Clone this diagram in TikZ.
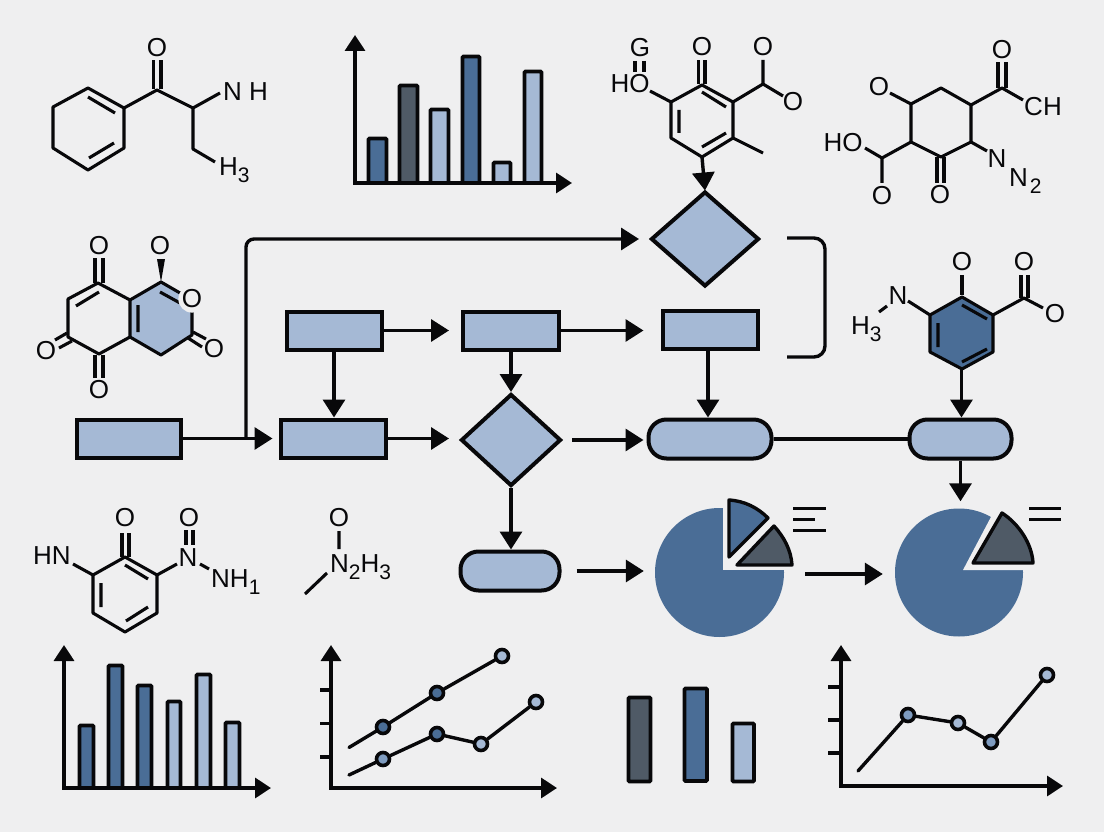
\documentclass[tikz,border=0pt]{standalone}
\usepackage{fontspec}
\setmainfont{Liberation Sans}
\usetikzlibrary{arrows.meta,shapes.geometric}
\definecolor{bgc}{HTML}{EFEFF0}
\definecolor{lightb}{HTML}{A5B9D5}
\definecolor{midb}{HTML}{7F9CC0}
\definecolor{darkb}{HTML}{4A6D96}
\definecolor{slate}{HTML}{4F5A66}
\definecolor{ink}{HTML}{08080A}
\newcommand{\atomsub}[1]{\raisebox{-7pt}{\fontsize{21}{21}\selectfont #1}}
\newcommand{\barbox}[5]{\draw[barbox,fill=#5] (#1+1.5,#2+1.5) rectangle (#3-1.5,#4);}
\tikzset{
  x=1pt,y=-1pt,
  flowrect/.style={draw=ink,fill=lightb,line width=4pt,inner sep=0,rectangle,minimum width=#1,minimum height=38pt},
  flowpill/.style={draw=ink,fill=lightb,line width=4pt,inner sep=0,rectangle,rounded corners=18pt,minimum width=#1,minimum height=39pt},
  flowdia/.style n args={2}{draw=ink,fill=lightb,line width=4pt,inner sep=0,diamond,aspect=1.15,minimum width=#1,minimum height=#2},
  arrowline/.style={draw=ink,line width=3.4pt,-{Triangle[length=18pt,width=22pt]}},
  plainline/.style={draw=ink,line width=3.4pt},
  axisline/.style={draw=ink,line width=3.4pt,{Triangle[length=16pt,width=20pt]}-{Triangle[length=16pt,width=20pt]},line join=miter},
  barbox/.style={draw=ink,line width=3.6pt,rounded corners=1pt},
  bond/.style={draw=ink,line width=3.1pt,line join=round},
  atom/.style={text=ink,inner sep=0,font=\fontsize{26}{26}\selectfont},
  baseatom/.style={atom,anchor=base west},
  tick/.style={draw=ink,line width=3.4pt},
  dotm/.style={circle,draw=ink,line width=3.6pt,inner sep=0,minimum size=13pt,fill=#1},
  trace/.style={draw=ink,line width=3.4pt,line cap=round},
  pie/.style={circle,fill=darkb,inner sep=0,minimum size=#1},
  slice/.style={draw=ink,line width=3.4pt,line join=round,fill=#1},
  legendline/.style={draw=ink,line width=3pt},
}
\begin{document}
\begin{tikzpicture}
\useasboundingbox (0,0) rectangle (1104,832);
\fill[bgc] (0,0) rectangle (1104,832);

% --- molecule 1 (top left)
\draw[bond] (88,88) -- (124,108) -- (124,148) -- (88,170) -- (53,148) -- (53,107) -- cycle;
\draw[bond] (88,97) -- (115,113) (89,158) -- (114,143);
\draw[bond] (124,108) -- (157,90) -- (193,108) -- (220,93) (193,108) -- (193,149) -- (215,162);
\draw[bond] (153.5,89) -- (153.5,60) (161,89) -- (161,60);
\node[atom] (m1o) at (157,48) {O};
\node[baseatom] (m1nh) at (223,101) {N H};
\node[baseatom] (m1h) at (219,176) {H\atomsub{3}};

% --- top bar chart
\barbox{367}{137}{388}{183}{darkb}
\barbox{398}{84}{419}{183}{slate}
\barbox{429}{108}{450}{183}{lightb}
\barbox{461}{55}{481}{183}{darkb}
\barbox{492}{161}{512}{183}{lightb}
\barbox{523}{70}{543}{183}{lightb}
\draw[axisline] (355,35) -- (355,183) -- (572,183);

% --- molecule 3 (top centre)
\draw[bond] (702,85) -- (733,102) -- (733,138) -- (702,157) -- (671,138) -- (671,102) -- cycle;
\draw[bond] (702,92) -- (726,107) (726,133) -- (702,147) (679,110) -- (679,133);
\draw[bond] (698.5,84) -- (698.5,60) (705,84) -- (705,60);
\draw[bond] (635,61) -- (635,72) (644,61) -- (644,72);
\draw[bond] (650,91) -- (671,102);
\draw[bond] (733,102) -- (763,84) -- (763,60) (763,84) -- (783,96);
\draw[bond] (733,138) -- (763,153);
\node[atom] (m3o1) at (702,47) {O};
\node[atom] (m3g) at (640,48) {G};
\node[atom] (m3ho) at (630,84) {HO};
\node[atom] (m3o2) at (763,47) {O};
\node[atom] (m3o3) at (793,102) {O};

% --- molecule 4 (top right)
\draw[bond] (941,88) -- (971,105) -- (971,142) -- (941,157) -- (911,142) -- (911,104) -- cycle;
\draw[bond] (890,93) -- (911,104);
\draw[bond] (971,105) -- (1002,88) -- (1023,100);
\draw[bond] (998,88) -- (998,62) (1006,88) -- (1006,62);
\draw[bond] (971,142) -- (987,151);
\draw[bond] (937,157) -- (937,183) (944,157) -- (944,183);
\draw[bond] (911,142) -- (882,158) -- (865,148) (882,158) -- (882,183);
\node[atom] (m4o1) at (879,87) {O};
\node[atom] (m4o2) at (1002,50) {O};
\node[atom] (m4ch) at (1043,107) {CH};
\node[atom] (m4n) at (997,159) {N};
\node[baseatom] (m4n2) at (1009,186) {N\kern2pt\atomsub{2}};
\node[atom] (m4o3) at (940,195) {O};
\node[atom] (m4ho) at (843,143) {HO};
\node[atom] (m4o4) at (882,196) {O};

% --- molecule 2 (left)
\fill[lightb] (130,300) -- (161,282) -- (190,300) -- (192,335) -- (161,355) -- (130,337) -- cycle;
\draw[bond] (130,300) -- (98,283) -- (68,299) -- (68,337) -- (99,354) -- (130,337) -- cycle;
\draw[bond] (130,300) -- (161,282) -- (180,293) (192,305) -- (192,335) -- (161,355) -- (130,337);
\draw[bond] (76,306) -- (99,292) (138,305) -- (138,332) (160,292) -- (180,303);
\draw[bond] (95,258) -- (95,283) (103,258) -- (103,283);
\draw[bond] (95,355) -- (95,378) (103,355) -- (103,378);
\draw[bond] (55,340) -- (67,333) (59,348) -- (72,341);
\draw[bond] (193,332) -- (206,339) (188,338) -- (202,347);
\fill[ink] (161,282) -- (157,259) -- (165,259) -- cycle;
\node[atom] (m2o1) at (99,246) {O};
\node[atom] (m2o2) at (160,246) {O};
\node[atom,circle,fill=bgc] (m2o3) at (192,299) {O};
\node[atom] (m2o4) at (214,349) {O};
\node[atom] (m2o5) at (46,351) {O};
\node[atom] (m2o6) at (99,390) {O};

% --- molecule 5 (right)
\draw[bond,fill=darkb] (962,297) -- (993,315) -- (993,352) -- (962,369) -- (930,352) -- (930,315) -- cycle;
\draw[bond] (962,305) -- (987,319) (987,349) -- (962,362) (938,323) -- (938,347);
\draw[bond] (962,275) -- (962,295);
\draw[bond] (993,315) -- (1024,298) -- (1043,308);
\draw[bond] (1021,275) -- (1021,298) (1028,275) -- (1028,298);
\draw[bond] (908,301) -- (930,315) (887,306) -- (879,312);
\node[atom] (m5o1) at (962,262) {O};
\node[atom] (m5o2) at (1024,262) {O};
\node[atom] (m5o3) at (1055,314) {O};
\node[atom] (m5n) at (898,296) {N};
\node[baseatom] (m5h) at (851,334) {H\atomsub{3}};

% --- molecule 6
\draw[bond] (125,557) -- (157,575) -- (157,613) -- (125,632) -- (93,613) -- (93,575) -- cycle;
\draw[bond] (125,565) -- (148,579) (148,607) -- (126,621) (101,583) -- (101,607);
\draw[bond] (122,533) -- (122,557) (129,533) -- (129,557);
\draw[bond] (73,564) -- (93,575) (157,575) -- (177,564) (200,564) -- (209,569);
\draw[bond] (186,530) -- (186,545) (193,530) -- (193,545);
\node[atom] (m6o1) at (125,518) {O};
\node[atom] (m6hn) at (52,556) {HN};
\node[atom] (m6n) at (188,558) {N};
\node[atom] (m6o2) at (189,518) {O};
\node[baseatom] (m6nh) at (211,587) {NH\atomsub{1}};

% --- molecule 7
\draw[bond] (339,531) -- (339,549) (327,573) -- (305,594);
\node[atom] (m7o) at (339,518) {O};
\node[baseatom] (m7n) at (330,572) {N\atomsub{2}H\atomsub{3}};

% --- flow nodes
\node[flowrect=104pt] (A) at (128.5,438.5) {};
\node[flowrect=105pt] (B) at (333,438.5) {};
\node[flowrect=95pt] (C) at (334,330.5) {};
\node[flowrect=96pt] (D) at (511,330.5) {};
\node[flowrect=95pt] (E) at (710,330) {};
\node[flowdia={108pt}{95pt}] (dT) at (705,239) {};
\node[flowdia={100pt}{92pt}] (dM) at (511,440) {};
\node[flowpill=123pt] (pL) at (710,439) {};
\node[flowpill=102pt] (pR) at (960.5,439) {};
\node[flowpill=99pt] (pB) at (510,571) {};

% --- pies
\node[pie=129pt] (pieA) at (719.5,572.5) {};
\fill[bgc] (722.5,500) rectangle (790,570);
\draw[slice=darkb] (729,557) -- (729,500) .. controls (745,501) and (758,508) .. (768,518) -- cycle;
\draw[slice=slate] (737,565) -- (774,526) .. controls (784,537) and (791,550) .. (792,565) -- cycle;
\draw[legendline] (793,508) -- (826,508) (793,519) -- (815,519) (793,530) -- (826,530);

\node[pie=128pt] (pieB) at (959,572.5) {};
\fill[bgc] (963,570) -- (992,515) -- (1000,500) -- (1030,500) -- (1030,570) -- cycle;
\draw[slice=slate] (973,563) -- (1002,513) .. controls (1019,524) and (1032,544) .. (1033,563) -- cycle;
\draw[legendline] (1029,508) -- (1061,508) (1029,519) -- (1061,519);

% --- flow connectors
\coordinate (branch) at (246,438.5);
\coordinate (topMol) at (702,157);
\coordinate (hexBottom) at (961.5,369);
\coordinate (brA) at (787,238);
\coordinate (brB) at (787,357);
\draw[arrowline,shorten >=6pt] (A.east) -- (B.west);
\draw[arrowline,shorten >=10pt,rounded corners=8pt] (branch) |- (dT.west);
\draw[arrowline,shorten >=12pt] (C.east) -- (D.west);
\draw[arrowline,shorten >=17pt] (D.east) -- (D.east -| E.west);
\draw[arrowline] (C.south) -- (C.south |- B.north);
\draw[arrowline] (D.south) -- (dM.north);
\draw[arrowline] ([xshift=-2pt]E.south) -- ([xshift=-2pt]pL.north);
\draw[arrowline,shorten >=10pt] (B.east) -- (B.east -| dM.west);
\draw[arrowline,shorten <=9pt,shorten >=3pt] (dM.east) -- (dM.east -| pL.west);
\draw[plainline] (pL.east) -- (pR.west);
\draw[arrowline] (topMol) -- ([yshift=-1pt]dT.north);
\draw[arrowline] (hexBottom) -- (hexBottom |- pR.north);
\draw[arrowline,shorten >=7pt] (pR.south) -- (pR.south |- pieB.north);
\draw[arrowline] (dM.south) -- (pB.north -| dM.south);
\draw[arrowline,shorten <=15pt,shorten >=11pt] (pB.east) -- (pB.east -| pieA.west);
\draw[arrowline,shorten <=21pt,shorten >=12pt] ([yshift=-1.5pt]pieA.east) -- ([yshift=-1.5pt]pieB.west);
\draw[plainline,rounded corners=11pt] (brA) -- (825,238) -- (825,357) -- (brB);

% --- bottom bar chart
\barbox{78}{724}{95}{788}{darkb}
\barbox{107}{664}{124}{788}{darkb}
\barbox{136}{684}{153}{788}{darkb}
\barbox{166}{700}{182}{788}{lightb}
\barbox{195}{673}{212}{788}{lightb}
\barbox{224}{721}{241}{788}{lightb}
\draw[axisline] (64,645) -- (64,788) -- (271,788);

% --- line chart 1
\draw[axisline] (331,645) -- (331,788) -- (557,788);
\draw[tick] (320,690) -- (331,690) (320,723.5) -- (331,723.5) (320,757) -- (331,757);
\coordinate (a0) at (349,747.5);
\coordinate (b0) at (349,775);
\node[dotm=darkb] (a1) at (383,727) {};
\node[dotm=darkb] (a2) at (437,693) {};
\node[dotm=lightb] (a3) at (502,656) {};
\node[dotm=midb] (b1) at (383,759) {};
\node[dotm=darkb] (b2) at (437,734) {};
\node[dotm=lightb] (b3) at (481,744) {};
\node[dotm=lightb] (b4) at (536,702) {};
\draw[trace] (a0) -- (a1) (a1) -- (a2) (a2) -- (a3);
\draw[trace] (b0) -- (b1) (b1) -- (b2) (b2) -- (b3) (b3) -- (b4);

% --- three bars
\draw[barbox,fill=slate] (628.5,697.5) rectangle (650.5,781.5);
\draw[barbox,fill=darkb] (684.5,688.5) rectangle (707,781);
\draw[barbox,fill=lightb] (732.5,723.5) rectangle (754,781.5);

% --- line chart 2
\draw[axisline] (841,645) -- (841,786) -- (1063,786);
\draw[tick] (828,687) -- (841,687) (828,720) -- (841,720) (828,753) -- (841,753);
\coordinate (c0) at (858,771);
\node[dotm=midb] (c1) at (908,715) {};
\node[dotm=lightb] (c2) at (958,723) {};
\node[dotm=midb] (c3) at (991,742) {};
\node[dotm=lightb] (c4) at (1047,675) {};
\draw[trace] (c0) -- (c1) (c1) -- (c2) (c2) -- (c3) (c3) -- (c4);
\end{tikzpicture}
\end{document}
